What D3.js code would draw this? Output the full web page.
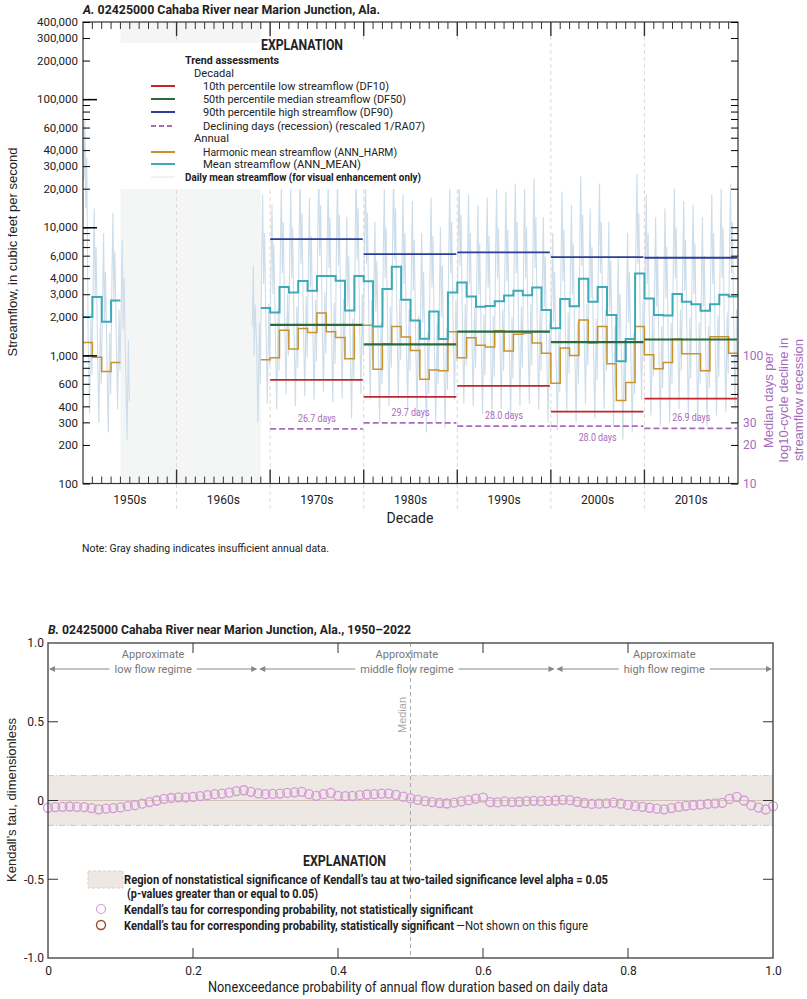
<!DOCTYPE html>
<html><head><meta charset="utf-8">
<script src="https://cdn.jsdelivr.net/npm/d3@7"></script>
<style>
body{margin:0;background:#fff}
text{font-family:"Liberation Sans Narrow",Roboto,sans-serif;font-size:11px;fill:#222}
</style></head><body>
<svg width="807" height="999"></svg>
<script>
var decades = ['1950s','1960s','1970s','1980s','1990s','2000s','2010s'];
var yLabels = [100,200,300,400,600,1000,2000,3000,4000,6000,10000,20000,30000,40000,60000,100000,200000,300000,400000];
var rLabels = [10,20,30,40,60,100];
var annYears = [1950,1951,1952,1953,
  1969,1970,1971,1972,1973,1974,1975,1976,1977,1978,1979,1980,1981,1982,1983,1984,1985,1986,1987,1988,1989,
  1990,1991,1992,1993,1994,1995,1996,1997,1998,1999,2000,2001,2002,2003,2004,2005,2006,2007,2008,2009,
  2010,2011,2012,2013,2014,2015,2016,2017,2018,2019];
var annMean = [1990,2860,1830,2680,
  2340,2160,3410,3100,3800,3200,4160,4160,3830,2240,4160,3790,1680,3290,4910,2720,1870,1350,2200,1340,3100,
  3710,2880,2400,2430,2650,2930,3200,2940,3390,2260,1630,2750,2420,3960,2620,3410,2070,900,1340,4350,
  2780,2070,2050,3010,2620,2510,2230,2510,2970,2880];
var annHarm = [1260,968,747,880,
  923,958,1570,1120,1620,1510,2140,1530,1380,943,1720,1720,780,1230,1680,1390,1090,651,770,757,1530,
  958,1370,1200,1160,1560,1080,1460,1490,1250,1040,607,1140,1000,1890,1250,1680,860,444,615,1680,
  1010,785,880,1340,1030,1030,760,1400,1400,1040];
var decStart = [1970,1980,1990,2000,2010];
var df90 = [8090,6180,6360,5850,5780];
var df50 = [1730,1220,1530,1270,1330];
var df10 = [644,474,578,364,459];
var recessDays = [26.7,29.7,28.0,28.0,26.9];
var dailyYears = [1950,1951,1952,1953,1954,1968,
  1969,1970,1971,1972,1973,1974,1975,1976,1977,1978,1979,1980,1981,1982,1983,1984,1985,1986,1987,1988,1989,
  1990,1991,1992,1993,1994,1995,1996,1997,1998,1999,2000,2001,2002,2003,2004,2005,2006,2007,2008,2009,
  2010,2011,2012,2013,2014,2015,2016,2017,2018,2019];
var dailyPeak = [70000,14000,9000,13000,8000,5000,
  18000,15000,22000,20000,26000,17000,30000,24000,25000,12000,28000,26000,11000,20000,28000,18000,16000,9000,17000,10000,22000,
  25000,18000,15000,17000,20000,19000,22000,20000,24000,12000,9000,19000,15000,25000,14000,22000,11000,6000,9000,26000,
  18000,12000,14000,20000,16000,15000,12000,18000,20000,22000];
var dailyLow = [350,300,250,380,220,300,
  420,380,500,400,480,450,520,430,460,320,500,450,300,400,460,380,340,250,300,270,450,
  420,400,350,340,380,330,400,420,380,300,260,360,300,420,320,380,280,220,250,450,
  340,280,300,380,330,300,280,340,360,380];
var tauP = d3.range(101).map(function(i){ return i / 100; });
var tauVal = [-0.046,-0.042,-0.040,-0.038,-0.040,-0.042,-0.048,-0.056,-0.052,-0.048,
  -0.044,-0.036,-0.030,-0.020,-0.010,0.000,0.010,0.016,0.020,0.020,
  0.023,0.028,0.034,0.040,0.044,0.050,0.060,0.065,0.055,0.045,
  0.040,0.042,0.044,0.048,0.052,0.055,0.040,0.030,0.040,0.048,
  0.030,0.028,0.030,0.034,0.038,0.040,0.044,0.044,0.036,0.024,
  0.013,0.004,-0.004,-0.010,-0.016,-0.019,-0.014,-0.006,0.002,0.012,
  0.018,-0.010,-0.012,-0.006,-0.010,-0.008,-0.004,-0.002,-0.004,-0.002,
  0.000,0.004,0.002,-0.008,-0.016,-0.022,-0.020,-0.018,-0.014,-0.020,
  -0.028,-0.036,-0.040,-0.046,-0.052,-0.056,-0.048,-0.040,-0.034,-0.030,
  -0.026,-0.022,-0.018,-0.015,0.010,0.023,0.000,-0.030,-0.045,-0.057,-0.036];
var tauBand = 0.158;

var svg = d3.select('svg');
var purple = '#a66bbd';

// squeeze a text to the width it has in the figure (condensed face)
function fit(sel, w){ return sel.attr('textLength', w).attr('lengthAdjust', 'spacingAndGlyphs'); }

// ---------- panel A ----------
var x = d3.scaleLinear().domain([1950, 2020]).range([83, 738]);
var y = d3.scaleLog().domain([100, 400000]).range([483.5, 22]);
var yr = d3.scaleLog().domain([10, 40000]).range([483.5, 22]);
var A = svg.append('g');

A.append('rect').attr('x', x(1954)).attr('width', x(1969) - x(1954))
  .attr('y', 22).attr('height', 461.5).attr('fill', '#f4f6f6');
[1960,1970,1980,1990,2000,2010].forEach(function(d){
  A.append('line').attr('x1', x(d)).attr('x2', x(d)).attr('y1', 22).attr('y2', 510)
    .attr('stroke', '#e3d5d5').attr('stroke-dasharray', '4,3');
});

// daily (visual only)
var dailyPts = [];
dailyYears.forEach(function(yy, i){
  dailyPts.push([yy + 0.1, dailyPeak[i] / 3]);
  dailyPts.push([yy + 0.2, dailyPeak[i]]);
  dailyPts.push([yy + 0.3, dailyPeak[i] / 5]);
  dailyPts.push([yy + 0.4, dailyPeak[i] / 2]);
  dailyPts.push([yy + 0.55, dailyLow[i] * 4]);
  dailyPts.push([yy + 0.7, dailyLow[i]]);
  dailyPts.push([yy + 0.85, dailyLow[i] * 6]);
  dailyPts.push([yy + 0.95, dailyLow[i] * 2]);
  if (yy === 1954 || yy === 2019) dailyPts.push(null);
});
var segs = [], cur = [];
dailyPts.forEach(function(p){ if (p) cur.push(p); else { segs.push(cur); cur = []; } });
var dline = d3.line().x(function(d){ return x(d[0]); }).y(function(d){ return y(d[1]); });
segs.forEach(function(s){
  A.append('path').attr('d', dline(s)).attr('fill', 'none').attr('stroke', '#cddde9').attr('stroke-width', 1.1);
});

// legend box
var L = A.append('g').style('font-family', 'Roboto,sans-serif');
L.append('rect').attr('x', 120).attr('y', 43).attr('width', 340).attr('height', 146).attr('fill', '#fff');
fit(L.append('text').attr('x', 261).attr('y', 50).style('font-size', '14px').style('font-weight', 'bold').text('EXPLANATION'), 82);
fit(L.append('text').attr('x', 185).attr('y', 64).style('font-weight', 'bold').style('font-size', '11px').text('Trend assessments'), 94);
fit(L.append('text').attr('x', 194).attr('y', 77).style('font-size', '11px').text('Decadal'), 40);
fit(L.append('text').attr('x', 194).attr('y', 142).style('font-size', '11px').text('Annual'), 35);
var legItems = [
  {y: 86, c: '#c0262c', t: '10th percentile low streamflow (DF10)', w: 186},
  {y: 99, c: '#2a6b3a', t: '50th percentile median streamflow (DF50)', w: 203},
  {y: 112, c: '#2a3e9a', t: '90th percentile high streamflow (DF90)', w: 190},
  {y: 126, c: purple, t: 'Declining days (recession) (rescaled 1/RA07)', dash: '5,3', w: 222},
  {y: 152, c: '#c9932a', t: 'Harmonic mean streamflow (ANN_HARM)', w: 194},
  {y: 164, c: '#3ea9b7', t: 'Mean streamflow (ANN_MEAN)', w: 158}
];
legItems.forEach(function(d){
  L.append('line').attr('x1', 151).attr('x2', 175).attr('y1', d.y).attr('y2', d.y)
    .attr('stroke', d.c).attr('stroke-width', 2).attr('stroke-dasharray', d.dash || null);
  fit(L.append('text').attr('x', 203).attr('y', d.y + 4).style('font-size', '11px').text(d.t), d.w);
});
L.append('line').attr('x1', 151).attr('x2', 175).attr('y1', 177).attr('y2', 177).attr('stroke', '#dbe6ee');
fit(L.append('text').attr('x', 185).attr('y', 181).style('font-size', '11px').style('font-weight', 'bold').text('Daily mean streamflow (for visual enhancement only)'), 236);

// decadal lines
function decLines(vals, color, scale, dash, w){
  A.selectAll(null).data(vals).enter().append('line')
    .attr('x1', function(d, i){ return x(decStart[i]); })
    .attr('x2', function(d, i){ return x(decStart[i] + 10) - 1; })
    .attr('y1', function(d){ return scale(d); }).attr('y2', function(d){ return scale(d); })
    .attr('stroke', color).attr('stroke-width', w || 1.8).attr('stroke-dasharray', dash || null);
}
decLines(df90, '#2a3e9a', y);
decLines(df10, '#c0262c', y);

// annual steps
function stepPath(vals){
  var groups = [[]];
  annYears.forEach(function(yy, i){
    if (i > 0 && yy !== annYears[i - 1] + 1) groups.push([]);
    groups[groups.length - 1].push([yy, vals[i]]);
  });
  return groups.map(function(g){
    var last = g[g.length - 1];
    return d3.line().curve(d3.curveStepAfter).x(function(d){ return x(d[0]); }).y(function(d){ return y(d[1]); })(g.concat([[last[0] + 1, last[1]]]));
  });
}
stepPath(annHarm).forEach(function(p){ A.append('path').attr('d', p).attr('fill', 'none').attr('stroke', '#c9932a').attr('stroke-width', 1.5); });
stepPath(annMean).forEach(function(p){ A.append('path').attr('d', p).attr('fill', 'none').attr('stroke', '#3ea9b7').attr('stroke-width', 2); });
decLines(df50, '#2a6b3a', y, null, 2.2);
decLines(recessDays, purple, yr, '6,3', 1.8);
A.selectAll(null).data(recessDays).enter().append('text')
  .attr('x', function(d, i){ return x(decStart[i] + 5); })
  .attr('y', function(d, i){ return i === 3 ? yr(d) + 15 : yr(d) - 7; })
  .attr('text-anchor', 'middle').style('fill', purple).style('font-size', '11px')
  .attr('textLength', 38).attr('lengthAdjust', 'spacingAndGlyphs')
  .text(function(d){ return d.toFixed(1) + ' days'; });

// frame & axes
A.append('rect').attr('x', 83).attr('y', 22).attr('width', 655).attr('height', 461.5).attr('fill', 'none').attr('stroke', '#333').attr('stroke-width', 1.2);
var minorY = [];
[100,1000,10000,100000].forEach(function(b){ for (var k = 1; k < 10; k++) if (b * k <= 400000) minorY.push(b * k); });
A.append('g').attr('transform', 'translate(83,0)')
  .call(d3.axisLeft(y).tickValues(minorY).tickSizeInner(-7).tickSizeOuter(0).tickFormat(''))
  .call(function(g){ g.select('.domain').remove(); });
A.append('g').attr('transform', 'translate(83,0)')
  .call(d3.axisLeft(y).tickValues([1000,10000,100000]).tickSizeInner(-14).tickSizeOuter(0).tickFormat(''))
  .call(function(g){ g.select('.domain').remove(); g.selectAll('line').attr('stroke-width', 1.5); });
A.append('g').attr('transform', 'translate(83,0)')
  .call(d3.axisLeft(y).tickValues(yLabels).tickSize(0).tickPadding(5).tickFormat(d3.format(',')))
  .call(function(g){ g.select('.domain').remove(); g.selectAll('text').style('font-size', '11.5px').style('fill', '#222').style('font-family', 'Roboto,sans-serif'); });
var minorR = [];
[10,100,1000,10000].forEach(function(b){ for (var k = 1; k < 10; k++) if (b * k <= 40000) minorR.push(b * k); });
A.append('g').attr('transform', 'translate(738,0)')
  .call(d3.axisRight(yr).tickValues(minorR).tickSizeInner(-7).tickSizeOuter(0).tickFormat(''))
  .call(function(g){ g.select('.domain').remove(); });
A.append('g').attr('transform', 'translate(738,0)')
  .call(d3.axisRight(yr).tickValues(rLabels).tickSize(0).tickPadding(5))
  .call(function(g){ g.select('.domain').remove(); g.selectAll('text').style('font-size', '12px').style('fill', purple).style('font-family', 'Roboto,sans-serif'); });
var years = d3.range(1951, 2020);
[[483.5, 1], [22, -1]].forEach(function(s){
  A.selectAll(null).data(years).enter().append('line')
    .attr('x1', function(d){ return x(d); }).attr('x2', function(d){ return x(d); })
    .attr('y1', s[0]).attr('y2', function(d){ return s[0] - s[1] * (d % 10 === 0 ? 14 : 7); })
    .attr('stroke', '#333').attr('stroke-width', function(d){ return d % 10 === 0 ? 1.4 : 1; });
});
A.selectAll(null).data(decades).enter().append('text')
  .attr('x', function(d, i){ return x(1955 + i * 10); }).attr('y', 504)
  .attr('text-anchor', 'middle').style('font-size', '12px').style('font-family', 'Roboto,sans-serif').text(function(d){ return d; });
A.append('text').attr('x', 410).attr('y', 523).attr('text-anchor', 'middle').style('font-size', '14px').style('font-family', 'Roboto,sans-serif').text('Decade');
fit(A.append('text').attr('x', 82).attr('y', 552).style('font-size', '11px').style('font-family', 'Roboto,sans-serif').text('Note: Gray shading indicates insufficient annual data.'), 247);
A.append('text').attr('transform', 'translate(17,252)rotate(-90)').attr('text-anchor', 'middle')
  .style('font-size', '13px').style('font-family', 'Liberation Sans,sans-serif').text('Streamflow, in cubic feet per second');
['Median days per', 'log10-cycle decline in', 'streamflow recession'].forEach(function(t, i){
  A.append('text').attr('transform', 'translate(' + (773 + i * 15) + ',400)rotate(-90)').attr('text-anchor', 'middle')
    .style('font-size', '13px').style('fill', purple).style('font-family', 'Liberation Sans,sans-serif').text(t);
});
fit(A.append('text').attr('x', 83).attr('y', 14).style('font-size', '13px').style('font-weight', 'bold').style('font-family', 'Roboto,sans-serif')
  .html('<tspan font-style="italic">A.</tspan> 02425000 Cahaba River near Marion Junction, Ala.'), 297);

// ---------- panel B ----------
var bx = d3.scaleLinear().domain([0, 1]).range([48, 773]);
var by = d3.scaleLinear().domain([-1, 1]).range([958, 643]);
var B = svg.append('g').style('font-family', 'Roboto,sans-serif');
fit(B.append('text').attr('x', 48).attr('y', 634).style('font-size', '13px').style('font-weight', 'bold')
  .html('<tspan font-style="italic">B.</tspan> 02425000 Cahaba River near Marion Junction, Ala., 1950\u20132022'), 363);
B.append('rect').attr('x', bx(0)).attr('width', bx(1) - bx(0)).attr('y', by(tauBand)).attr('height', by(-tauBand) - by(tauBand))
  .attr('fill', '#ede8e4');
[tauBand, -tauBand].forEach(function(v){
  B.append('line').attr('x1', bx(0)).attr('x2', bx(1)).attr('y1', by(v)).attr('y2', by(v))
    .attr('stroke', '#cfc6c0').attr('stroke-dasharray', '6,2,1,2');
});
B.append('line').attr('x1', bx(0)).attr('x2', bx(1)).attr('y1', by(0)).attr('y2', by(0)).attr('stroke', '#d2c3b6');
B.append('line').attr('x1', bx(0.5)).attr('x2', bx(0.5)).attr('y1', by(1)).attr('y2', by(-1))
  .attr('stroke', '#aaa').attr('stroke-dasharray', '4,3');
B.append('text').attr('transform', 'translate(' + (bx(0.5) - 5) + ',715)rotate(-90)').attr('text-anchor', 'middle')
  .style('fill', '#aaa').style('font-size', '11px').style('font-family', 'Liberation Sans,sans-serif').text('Median');

var regimes = [[0, 0.29, 'low flow regime'], [0.29, 0.70, 'middle flow regime'], [0.70, 1, 'high flow regime']];
regimes.forEach(function(r){
  var cx = bx((r[0] + r[1]) / 2), ay = 669;
  B.append('text').attr('x', cx).attr('y', 658).attr('text-anchor', 'middle').style('fill', '#777').text('Approximate');
  var t = B.append('text').attr('x', cx).attr('y', 673).attr('text-anchor', 'middle').style('fill', '#777').text(r[2]);
  var w = t.node().getComputedTextLength() / 2 + 5;
  B.append('line').attr('x1', bx(r[0]) + 2).attr('x2', cx - w).attr('y1', ay).attr('y2', ay).attr('stroke', '#888');
  B.append('line').attr('x1', cx + w).attr('x2', bx(r[1]) - 2).attr('y1', ay).attr('y2', ay).attr('stroke', '#888');
  B.append('path').attr('d', 'M' + (bx(r[0]) + 1) + ',' + ay + 'l6,-3v6z').attr('fill', '#888');
  B.append('path').attr('d', 'M' + (bx(r[1]) - 1) + ',' + ay + 'l-6,-3v6z').attr('fill', '#888');
});

B.selectAll(null).data(tauVal).enter().append('circle')
  .attr('cx', function(d, i){ return bx(tauP[i]); }).attr('cy', function(d){ return by(d); })
  .attr('r', 4.5).attr('fill', 'none').attr('stroke', '#d49ad4').attr('stroke-width', 1.3);

B.append('rect').attr('x', bx(0)).attr('y', by(1)).attr('width', bx(1) - bx(0)).attr('height', by(-1) - by(1))
  .attr('fill', 'none').attr('stroke', '#555').attr('stroke-width', 1.5);
B.append('g').attr('transform', 'translate(0,' + by(-1) + ')')
  .call(d3.axisBottom(bx).tickValues([0, 0.2, 0.4, 0.6, 0.8, 1]).tickSizeInner(0).tickSizeOuter(0).tickPadding(8).tickFormat(function(d){ return d === 0 ? '0' : d.toFixed(1); }))
  .call(function(g){ g.select('.domain').remove(); g.selectAll('text').style('font-size', '12px').style('font-family', 'Roboto,sans-serif'); });
[0.2, 0.4, 0.6, 0.8].forEach(function(v){
  B.append('line').attr('x1', bx(v)).attr('x2', bx(v)).attr('y1', by(-1)).attr('y2', by(-1) - 10).attr('stroke', '#333');
  B.append('line').attr('x1', bx(v)).attr('x2', bx(v)).attr('y1', by(1)).attr('y2', by(1) + 10).attr('stroke', '#333');
});
B.append('g').attr('transform', 'translate(' + bx(0) + ',0)')
  .call(d3.axisLeft(by).tickValues([-1, -0.5, 0, 0.5, 1]).tickSizeInner(0).tickSizeOuter(0).tickPadding(4).tickFormat(function(d){ return d === 0 ? '0' : d.toFixed(1); }))
  .call(function(g){ g.select('.domain').remove(); g.selectAll('text').style('font-size', '12px').style('font-family', 'Roboto,sans-serif'); });
[-0.5, 0, 0.5].forEach(function(v){
  B.append('line').attr('x1', bx(0)).attr('x2', bx(0) + 10).attr('y1', by(v)).attr('y2', by(v)).attr('stroke', '#333');
  B.append('line').attr('x1', bx(1)).attr('x2', bx(1) - 10).attr('y1', by(v)).attr('y2', by(v)).attr('stroke', '#333');
});
fit(B.append('text').attr('x', 208).attr('y', 992).style('font-size', '14px')
  .text('Nonexceedance probability of annual flow duration based on daily data'), 400);
B.append('text').attr('transform', 'translate(16,800)rotate(-90)').attr('text-anchor', 'middle')
  .style('font-size', '13px').style('font-family', 'Liberation Sans,sans-serif').text('Kendall\u2019s tau, dimensionless');

// legend B
fit(B.append('text').attr('x', 303).attr('y', 866).style('font-size', '14px').style('font-weight', 'bold').text('EXPLANATION'), 83);
B.append('rect').attr('x', 88).attr('y', 871).attr('width', 35).attr('height', 17).attr('fill', '#ede8e4').attr('stroke', '#d8d0ca').attr('stroke-dasharray', '3,2');
fit(B.append('text').attr('x', 124).attr('y', 884).style('font-weight', 'bold').style('font-size', '12px')
  .text('Region of nonstatistical significance of Kendall\u2019s tau at two-tailed significance level alpha = 0.05'), 484);
fit(B.append('text').attr('x', 127).attr('y', 898).style('font-weight', 'bold').style('font-size', '12px')
  .text('(p-values greater than or equal to 0.05)'), 191);
B.append('circle').attr('cx', 101).attr('cy', 909).attr('r', 4.5).attr('fill', 'none').attr('stroke', '#d49ad4').attr('stroke-width', 1.2);
fit(B.append('text').attr('x', 124).attr('y', 914).style('font-weight', 'bold').style('font-size', '12px')
  .text('Kendall\u2019s tau for corresponding probability, not statistically significant'), 349);
B.append('circle').attr('cx', 101).attr('cy', 925).attr('r', 4.5).attr('fill', 'none').attr('stroke', '#9c4a22').attr('stroke-width', 1.4);
fit(B.append('text').attr('x', 124).attr('y', 930).style('font-weight', 'bold').style('font-size', '12px')
  .text('Kendall\u2019s tau for corresponding probability, statistically significant'), 330);
fit(B.append('text').attr('x', 456).attr('y', 930).style('font-size', '12px').text('\u2014Not shown on this figure'), 132);
</script></body></html>
